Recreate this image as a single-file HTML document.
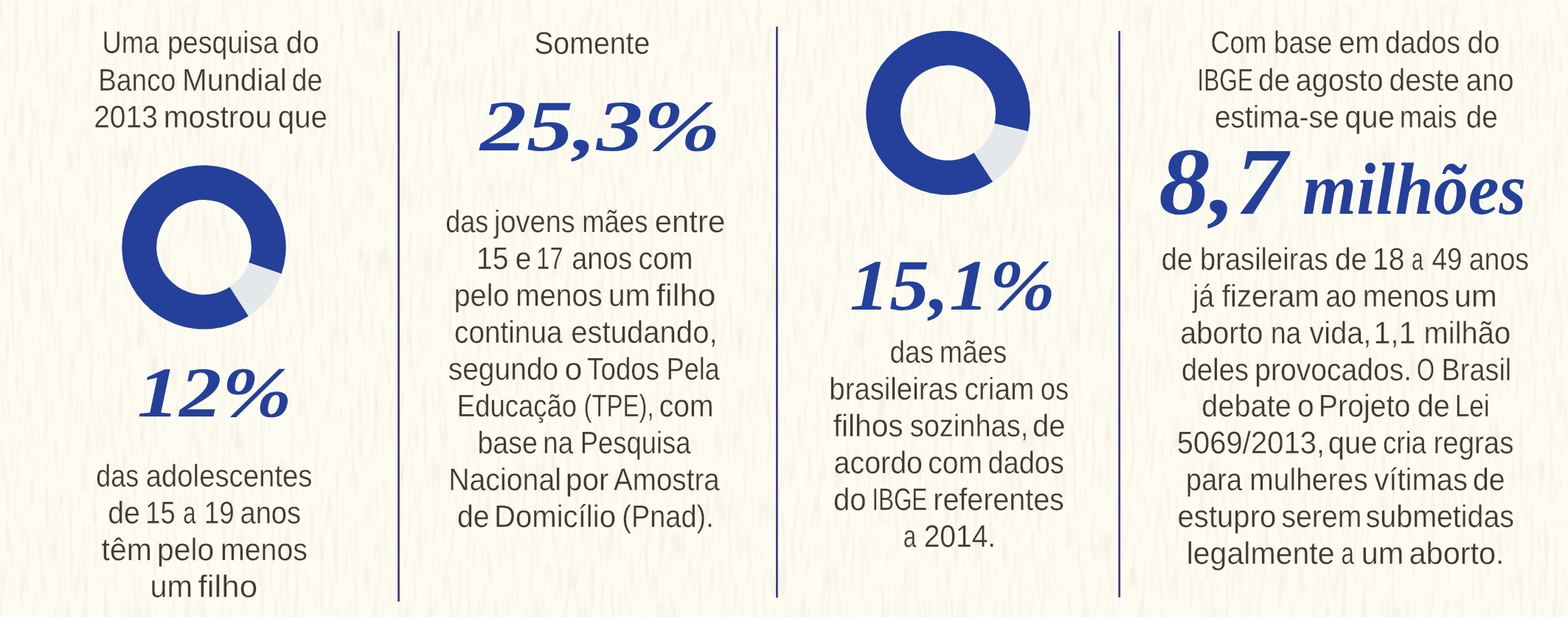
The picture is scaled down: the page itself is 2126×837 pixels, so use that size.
<!DOCTYPE html>
<html lang="pt-BR"><head><meta charset="utf-8"><title>Infográfico</title>
<style>
html,body{margin:0;padding:0;background:#fefcf1;}
body{width:2126px;height:837px;overflow:hidden;font-family:"Liberation Sans",sans-serif;}
svg{display:block;}
</style></head><body>
<svg width="2126" height="837" viewBox="0 0 2126 837">
<defs>
<filter id="paper" x="0" y="0" width="100%" height="100%" color-interpolation-filters="sRGB">
<feTurbulence type="fractalNoise" baseFrequency="0.15 0.021" numOctaves="2" seed="4" result="n"/>
<feColorMatrix type="matrix" values="0 0 0 0 0.925  0 0 0 0 0.915  0 0 0 0 0.855  2.3 0 0 0 -1.08"/>
</filter>
</defs>
<rect width="2126" height="837" fill="#fefcf1"/>
<rect width="2126" height="837" filter="url(#paper)" opacity="0.62"/>
<rect x="539.15" y="42" width="2.7" height="774" fill="#373c83"/>
<rect x="1052.05" y="36.3" width="2.7" height="774.5" fill="#373c83"/>
<rect x="1516.35" y="42" width="2.7" height="768.3" fill="#373c83"/>
<path d="M337.06,428.66 A111.2,111.2 0 1 1 381.64,371.60 L337.30,356.33 A64.3,64.3 0 1 0 311.52,389.33 Z" fill="#24409a"/><path d="M381.64,371.60 A111.2,111.2 0 0 1 337.06,428.66 L311.52,389.33 A64.3,64.3 0 0 0 337.30,356.33 Z" fill="#e5e8ea"/>
<path d="M1346.12,246.44 A111.3,111.3 0 1 1 1393.95,178.14 L1348.35,167.61 A64.5,64.5 0 1 0 1320.63,207.19 Z" fill="#24409a"/><path d="M1393.95,178.14 A111.3,111.3 0 0 1 1346.12,246.44 L1320.63,207.19 A64.5,64.5 0 0 0 1348.35,167.61 Z" fill="#e5e8ea"/>
<g font-family="'Liberation Sans', sans-serif" font-size="42.5" fill="#3b3834" opacity="0.99" text-rendering="geometricPrecision" stroke="#fefcf1" stroke-width="0.3">
<text x="138.48" y="72.40" textLength="76.93" lengthAdjust="spacingAndGlyphs">Uma</text>
<text x="226.91" y="72.40" textLength="150.50" lengthAdjust="spacingAndGlyphs">pesquisa</text>
<text x="387.78" y="72.40" textLength="45.10" lengthAdjust="spacingAndGlyphs">do</text>
<text x="133.36" y="122.60" textLength="104.89" lengthAdjust="spacingAndGlyphs">Banco</text>
<text x="247.05" y="122.60" textLength="141.81" lengthAdjust="spacingAndGlyphs">Mundial</text>
<text x="395.70" y="122.60" textLength="41.40" lengthAdjust="spacingAndGlyphs">de</text>
<text x="127.17" y="172.80" textLength="86.71" lengthAdjust="spacingAndGlyphs">2013</text>
<text x="221.73" y="172.80" textLength="146.89" lengthAdjust="spacingAndGlyphs">mostrou</text>
<text x="376.83" y="172.80" textLength="67.03" lengthAdjust="spacingAndGlyphs">que</text>
<text x="130.32" y="659.60" textLength="57.97" lengthAdjust="spacingAndGlyphs">das</text>
<text x="197.70" y="659.60" textLength="225.82" lengthAdjust="spacingAndGlyphs">adolescentes</text>
<text x="146.28" y="709.70" textLength="43.66" lengthAdjust="spacingAndGlyphs">de</text>
<text x="197.21" y="709.70" textLength="40.52" lengthAdjust="spacingAndGlyphs">15</text>
<text x="248.21" y="709.70" textLength="17.25" lengthAdjust="spacingAndGlyphs">a</text>
<text x="276.70" y="709.70" textLength="41.08" lengthAdjust="spacingAndGlyphs">19</text>
<text x="325.48" y="709.70" textLength="82.61" lengthAdjust="spacingAndGlyphs">anos</text>
<text x="137.60" y="759.80" textLength="68.42" lengthAdjust="spacingAndGlyphs">têm</text>
<text x="212.99" y="759.80" textLength="77.27" lengthAdjust="spacingAndGlyphs">pelo</text>
<text x="299.03" y="759.80" textLength="117.93" lengthAdjust="spacingAndGlyphs">menos</text>
<text x="203.46" y="809.90" textLength="57.73" lengthAdjust="spacingAndGlyphs">um</text>
<text x="268.50" y="809.90" textLength="80.73" lengthAdjust="spacingAndGlyphs">filho</text>
<text x="724.18" y="72.60" textLength="157.15" lengthAdjust="spacingAndGlyphs">Somente</text>
<text x="604.32" y="315.30" textLength="57.97" lengthAdjust="spacingAndGlyphs">das</text>
<text x="670.06" y="315.30" textLength="109.70" lengthAdjust="spacingAndGlyphs">jovens</text>
<text x="789.17" y="315.30" textLength="89.24" lengthAdjust="spacingAndGlyphs">mães</text>
<text x="887.78" y="315.30" textLength="95.47" lengthAdjust="spacingAndGlyphs">entre</text>
<text x="645.99" y="365.30" textLength="43.56" lengthAdjust="spacingAndGlyphs">15</text>
<text x="698.72" y="365.30" textLength="21.77" lengthAdjust="spacingAndGlyphs">e</text>
<text x="727.36" y="365.30" textLength="36.26" lengthAdjust="spacingAndGlyphs">17</text>
<text x="775.20" y="365.30" textLength="81.99" lengthAdjust="spacingAndGlyphs">anos</text>
<text x="865.56" y="365.30" textLength="74.03" lengthAdjust="spacingAndGlyphs">com</text>
<text x="615.42" y="415.30" textLength="75.28" lengthAdjust="spacingAndGlyphs">pelo</text>
<text x="699.33" y="415.30" textLength="117.38" lengthAdjust="spacingAndGlyphs">menos</text>
<text x="824.67" y="415.30" textLength="57.12" lengthAdjust="spacingAndGlyphs">um</text>
<text x="889.79" y="415.30" textLength="80.66" lengthAdjust="spacingAndGlyphs">filho</text>
<text x="616.03" y="465.30" textLength="146.46" lengthAdjust="spacingAndGlyphs">continua</text>
<text x="774.16" y="465.30" textLength="198.42" lengthAdjust="spacingAndGlyphs">estudando,</text>
<text x="607.67" y="515.30" textLength="149.62" lengthAdjust="spacingAndGlyphs">segundo</text>
<text x="765.54" y="515.30" textLength="23.97" lengthAdjust="spacingAndGlyphs">o</text>
<text x="796.10" y="515.30" textLength="98.01" lengthAdjust="spacingAndGlyphs">Todos</text>
<text x="903.78" y="515.30" textLength="71.90" lengthAdjust="spacingAndGlyphs">Pela</text>
<text x="619.83" y="565.30" textLength="162.16" lengthAdjust="spacingAndGlyphs">Educação</text>
<text x="791.41" y="565.30" textLength="95.16" lengthAdjust="spacingAndGlyphs">(TPE),</text>
<text x="893.84" y="565.30" textLength="73.84" lengthAdjust="spacingAndGlyphs">com</text>
<text x="647.42" y="615.30" textLength="81.56" lengthAdjust="spacingAndGlyphs">base</text>
<text x="736.34" y="615.30" textLength="40.90" lengthAdjust="spacingAndGlyphs">na</text>
<text x="786.86" y="615.30" textLength="149.64" lengthAdjust="spacingAndGlyphs">Pesquisa</text>
<text x="608.15" y="665.30" textLength="152.80" lengthAdjust="spacingAndGlyphs">Nacional</text>
<text x="766.99" y="665.30" textLength="58.52" lengthAdjust="spacingAndGlyphs">por</text>
<text x="832.01" y="665.30" textLength="143.70" lengthAdjust="spacingAndGlyphs">Amostra</text>
<text x="620.03" y="715.30" textLength="43.61" lengthAdjust="spacingAndGlyphs">de</text>
<text x="669.94" y="715.30" textLength="165.09" lengthAdjust="spacingAndGlyphs">Domicílio</text>
<text x="843.33" y="715.30" textLength="124.39" lengthAdjust="spacingAndGlyphs">(Pnad).</text>
<text x="1206.56" y="492.30" textLength="59.32" lengthAdjust="spacingAndGlyphs">das</text>
<text x="1273.82" y="492.30" textLength="91.44" lengthAdjust="spacingAndGlyphs">mães</text>
<text x="1124.37" y="542.40" textLength="174.52" lengthAdjust="spacingAndGlyphs">brasileiras</text>
<text x="1307.46" y="542.40" textLength="94.82" lengthAdjust="spacingAndGlyphs">criam</text>
<text x="1410.85" y="542.40" textLength="38.20" lengthAdjust="spacingAndGlyphs">os</text>
<text x="1129.78" y="592.40" textLength="94.88" lengthAdjust="spacingAndGlyphs">filhos</text>
<text x="1233.70" y="592.40" textLength="160.50" lengthAdjust="spacingAndGlyphs">sozinhas,</text>
<text x="1400.01" y="592.40" textLength="44.41" lengthAdjust="spacingAndGlyphs">de</text>
<text x="1130.57" y="642.40" textLength="120.39" lengthAdjust="spacingAndGlyphs">acordo</text>
<text x="1258.26" y="642.40" textLength="73.72" lengthAdjust="spacingAndGlyphs">com</text>
<text x="1339.49" y="642.40" textLength="103.35" lengthAdjust="spacingAndGlyphs">dados</text>
<text x="1130.01" y="692.40" textLength="44.60" lengthAdjust="spacingAndGlyphs">do</text>
<text x="1182.17" y="692.40" textLength="75.18" lengthAdjust="spacingAndGlyphs">IBGE</text>
<text x="1265.28" y="692.40" textLength="177.52" lengthAdjust="spacingAndGlyphs">referentes</text>
<text x="1224.78" y="742.40" textLength="17.44" lengthAdjust="spacingAndGlyphs">a</text>
<text x="1252.63" y="742.40" textLength="97.55" lengthAdjust="spacingAndGlyphs">2014.</text>
<text x="1641.61" y="72.40" textLength="75.85" lengthAdjust="spacingAndGlyphs">Com</text>
<text x="1727.04" y="72.40" textLength="79.36" lengthAdjust="spacingAndGlyphs">base</text>
<text x="1815.16" y="72.40" textLength="54.98" lengthAdjust="spacingAndGlyphs">em</text>
<text x="1878.06" y="72.40" textLength="101.96" lengthAdjust="spacingAndGlyphs">dados</text>
<text x="1989.46" y="72.40" textLength="44.17" lengthAdjust="spacingAndGlyphs">do</text>
<text x="1623.35" y="122.50" textLength="75.86" lengthAdjust="spacingAndGlyphs">IBGE</text>
<text x="1705.98" y="122.50" textLength="43.13" lengthAdjust="spacingAndGlyphs">de</text>
<text x="1756.86" y="122.50" textLength="118.59" lengthAdjust="spacingAndGlyphs">agosto</text>
<text x="1883.50" y="122.50" textLength="95.50" lengthAdjust="spacingAndGlyphs">deste</text>
<text x="1987.80" y="122.50" textLength="64.77" lengthAdjust="spacingAndGlyphs">ano</text>
<text x="1647.00" y="172.60" textLength="168.50" lengthAdjust="spacingAndGlyphs">estima-se</text>
<text x="1823.32" y="172.60" textLength="67.80" lengthAdjust="spacingAndGlyphs">que</text>
<text x="1897.78" y="172.60" textLength="77.52" lengthAdjust="spacingAndGlyphs">mais</text>
<text x="1987.74" y="172.60" textLength="43.21" lengthAdjust="spacingAndGlyphs">de</text>
<text x="1574.87" y="365.50" textLength="42.34" lengthAdjust="spacingAndGlyphs">de</text>
<text x="1627.01" y="365.50" textLength="173.70" lengthAdjust="spacingAndGlyphs">brasileiras</text>
<text x="1810.03" y="365.50" textLength="43.61" lengthAdjust="spacingAndGlyphs">de</text>
<text x="1860.99" y="365.50" textLength="43.51" lengthAdjust="spacingAndGlyphs">18</text>
<text x="1913.96" y="365.50" textLength="15.73" lengthAdjust="spacingAndGlyphs">a</text>
<text x="1941.46" y="365.50" textLength="40.94" lengthAdjust="spacingAndGlyphs">49</text>
<text x="1991.76" y="365.50" textLength="81.36" lengthAdjust="spacingAndGlyphs">anos</text>
<text x="1617.37" y="415.50" textLength="28.70" lengthAdjust="spacingAndGlyphs">já</text>
<text x="1656.77" y="415.50" textLength="132.15" lengthAdjust="spacingAndGlyphs">fizeram</text>
<text x="1797.30" y="415.50" textLength="41.92" lengthAdjust="spacingAndGlyphs">ao</text>
<text x="1847.83" y="415.50" textLength="117.32" lengthAdjust="spacingAndGlyphs">menos</text>
<text x="1971.78" y="415.50" textLength="57.99" lengthAdjust="spacingAndGlyphs">um</text>
<text x="1600.36" y="465.50" textLength="112.11" lengthAdjust="spacingAndGlyphs">aborto</text>
<text x="1722.96" y="465.50" textLength="41.27" lengthAdjust="spacingAndGlyphs">na</text>
<text x="1775.55" y="465.50" textLength="83.64" lengthAdjust="spacingAndGlyphs">vida,</text>
<text x="1862.60" y="465.50" textLength="56.87" lengthAdjust="spacingAndGlyphs">1,1</text>
<text x="1930.59" y="465.50" textLength="117.66" lengthAdjust="spacingAndGlyphs">milhão</text>
<text x="1601.91" y="515.50" textLength="91.04" lengthAdjust="spacingAndGlyphs">deles</text>
<text x="1701.24" y="515.50" textLength="212.98" lengthAdjust="spacingAndGlyphs">provocados.</text>
<text x="1920.93" y="515.50" textLength="24.02" lengthAdjust="spacingAndGlyphs">O</text>
<text x="1954.60" y="515.50" textLength="94.68" lengthAdjust="spacingAndGlyphs">Brasil</text>
<text x="1629.33" y="565.40" textLength="121.46" lengthAdjust="spacingAndGlyphs">debate</text>
<text x="1759.00" y="565.40" textLength="22.69" lengthAdjust="spacingAndGlyphs">o</text>
<text x="1787.81" y="565.40" textLength="124.66" lengthAdjust="spacingAndGlyphs">Projeto</text>
<text x="1921.74" y="565.40" textLength="44.15" lengthAdjust="spacingAndGlyphs">de</text>
<text x="1972.64" y="565.40" textLength="47.08" lengthAdjust="spacingAndGlyphs">Lei</text>
<text x="1595.85" y="615.40" textLength="200.29" lengthAdjust="spacingAndGlyphs">5069/2013,</text>
<text x="1800.66" y="615.40" textLength="66.79" lengthAdjust="spacingAndGlyphs">que</text>
<text x="1874.92" y="615.40" textLength="59.03" lengthAdjust="spacingAndGlyphs">cria</text>
<text x="1943.57" y="615.40" textLength="108.84" lengthAdjust="spacingAndGlyphs">regras</text>
<text x="1608.03" y="665.40" textLength="75.97" lengthAdjust="spacingAndGlyphs">para</text>
<text x="1694.36" y="665.40" textLength="160.36" lengthAdjust="spacingAndGlyphs">mulheres</text>
<text x="1863.36" y="665.40" textLength="126.66" lengthAdjust="spacingAndGlyphs">vítimas</text>
<text x="1997.01" y="665.40" textLength="43.61" lengthAdjust="spacingAndGlyphs">de</text>
<text x="1596.55" y="715.40" textLength="133.81" lengthAdjust="spacingAndGlyphs">estupro</text>
<text x="1737.38" y="715.40" textLength="109.07" lengthAdjust="spacingAndGlyphs">serem</text>
<text x="1851.69" y="715.40" textLength="201.33" lengthAdjust="spacingAndGlyphs">submetidas</text>
<text x="1608.65" y="765.30" textLength="200.93" lengthAdjust="spacingAndGlyphs">legalmente</text>
<text x="1818.46" y="765.30" textLength="17.35" lengthAdjust="spacingAndGlyphs">a</text>
<text x="1845.79" y="765.30" textLength="57.62" lengthAdjust="spacingAndGlyphs">um</text>
<text x="1910.55" y="765.30" textLength="129.04" lengthAdjust="spacingAndGlyphs">aborto.</text>
</g>
<g font-family="'Liberation Serif', serif" font-weight="bold" font-style="italic" fill="#24409a" text-rendering="geometricPrecision">
<text x="186" y="565" font-size="97" textLength="210" lengthAdjust="spacingAndGlyphs">12%</text>
<text x="651" y="204" font-size="98" textLength="326" lengthAdjust="spacingAndGlyphs">25,3%</text>
<text x="1152" y="420" font-size="98" textLength="279" lengthAdjust="spacingAndGlyphs">15,1%</text>
<text x="1571" y="290" font-size="130" textLength="174" lengthAdjust="spacingAndGlyphs">8,7</text>
<text x="1766" y="290" font-size="100" textLength="303" lengthAdjust="spacingAndGlyphs">milhões</text>
</g>
</svg>
</body></html>
